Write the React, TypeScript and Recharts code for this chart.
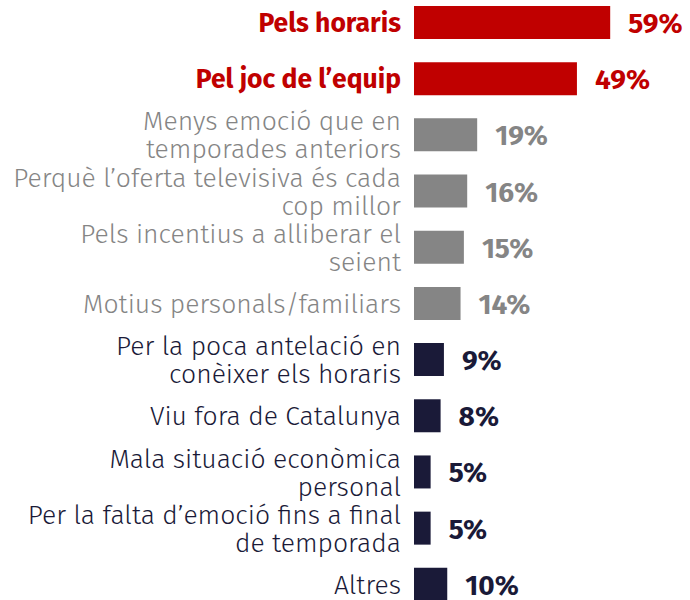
import { Bar, BarChart, Cell, LabelList, XAxis, YAxis } from 'recharts';

const RED = '#c00000';
const GREY = '#858585';
const NAVY = '#1a1a38';
const FONT = '"Fira Sans", "Open Sans", "Noto Sans", sans-serif';

const motius = [
  'Pels horaris',
  'Pel joc de l’equip',
  'Menys emoció que en\ntemporades anteriors',
  'Perquè l’oferta televisiva és cada\ncop millor',
  'Pels incentius a alliberar el\nseient',
  'Motius personals/familiars',
  'Per la poca antelació en\nconèixer els horaris',
  'Viu fora de Catalunya',
  'Mala situació econòmica\npersonal',
  'Per la falta d’emoció fins a final\nde temporada',
  'Altres',
];

const percentatges = [59, 49, 19, 16, 15, 14, 9, 8, 5, 5, 10];

const grups = ['top', 'top', 'mid', 'mid', 'mid', 'mid', 'low', 'low', 'low', 'low', 'low'];

const colorOf = (g: string) => (g === 'top' ? RED : g === 'mid' ? GREY : NAVY);

const data = motius.map((m, i) => ({ motiu: m, pct: percentatges[i], grup: grups[i] }));

function MotiuTick({ x, y, payload, index }: any) {
  const grup = grups[index] ?? 'low';
  const lines = String(payload.value).split('\n');
  const lh = 28;
  const startDy = -((lines.length - 1) * lh) / 2;
  return (
    <text
      x={x}
      y={y}
      textAnchor="end"
      fill={colorOf(grup)}
      fontFamily={FONT}
      fontSize={26.5}
      fontWeight={grup === 'top' ? 700 : 300}
    >
      {lines.map((l, i) => (
        <tspan key={i} x={x} dy={i === 0 ? startDy + 10 : lh}>
          {l}
        </tspan>
      ))}
    </text>
  );
}

function PctLabel({ x, y, width, height, value, index }: any) {
  return (
    <text
      x={x + width + 18}
      y={y + height / 2 + 10.5}
      fill={colorOf(grups[index])}
      fontFamily={FONT}
      fontSize={28}
      fontWeight={700}
    >
      {value}%
    </text>
  );
}

export default function App() {
  return (
    <div style={{ position: 'absolute', left: 0, top: -6, width: 690, height: 618 }}>
      <BarChart
        width={690}
        height={618}
        data={data}
        layout="vertical"
        margin={{ top: 0, right: 0, bottom: 0, left: 0 }}
        barCategoryGap={0}
      >
        <XAxis type="number" domain={[0, 83]} hide />
        <YAxis
          type="category"
          dataKey="motiu"
          width={414}
          axisLine={false}
          tickLine={false}
          tickMargin={7}
          interval={0}
          tick={<MotiuTick />}
        />
        <Bar dataKey="pct" barSize={33} isAnimationActive={false}>
          {data.map((d, i) => (
            <Cell key={i} fill={colorOf(d.grup)} />
          ))}
          <LabelList dataKey="pct" content={<PctLabel />} />
        </Bar>
      </BarChart>
    </div>
  );
}
